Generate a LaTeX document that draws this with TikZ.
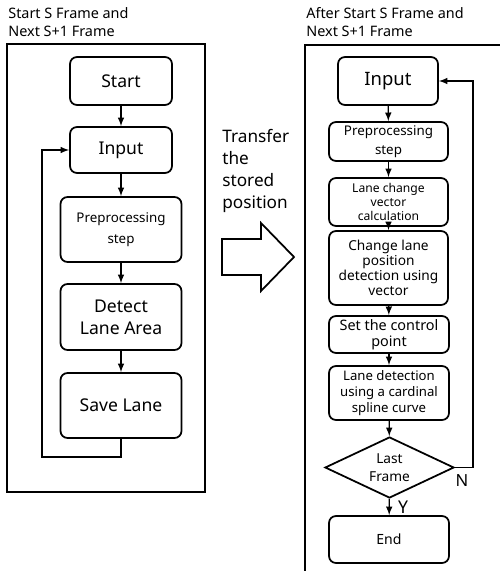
\documentclass[tikz,border=0pt]{standalone}
\usepackage{fontspec}
\setmainfont{Noto Sans}
\usetikzlibrary{arrows}
\usetikzlibrary{positioning}
\usetikzlibrary{shapes}
\newcommand{\pxu}{0.02cm}
\tikzset{
  stepbox/.style={draw, line width=1pt, rounded corners=4pt, align=center, inner sep=1pt},
  framebox/.style={line width=1.1pt},
  flow/.style={line width=0.7pt, -latex},
  titletxt/.style={anchor=north west, align=left, inner sep=0pt, font=\fontsize{8.2}{10.2}\selectfont},
  bigtxt/.style={font=\fontsize{10}{12.5}\selectfont},
}

\begin{document}
\begin{tikzpicture}[x=\pxu, y=-\pxu]
  \useasboundingbox (0,0) rectangle (500,571);

  %% first frames
  \node[titletxt] (ltitle) at (8,7) {Start S Frame and\\Next S+1 Frame};
  \draw[framebox] (7,44) rectangle (205,492);

  \node[stepbox, bigtxt, minimum width=102*\pxu, minimum height=48*\pxu] (start) at (121,81) {Start};
  \node[stepbox, bigtxt, minimum width=102*\pxu, minimum height=46*\pxu] (input) at (121,150) {Input};
  \node[stepbox, font=\fontsize{7.6}{12}\selectfont, minimum width=121*\pxu, minimum height=65*\pxu] (prep) at (121,229.5) {Preprocessing\\step};
  \node[stepbox, bigtxt, minimum width=121*\pxu, minimum height=66*\pxu] (detect) at (121,317) {Detect\\Lane Area};
  \node[stepbox, bigtxt, minimum width=121*\pxu, minimum height=65*\pxu] (save) at (121,405.5) {Save Lane};
  \coordinate (lback) at (42,457);

  \draw[flow] (start) -- (input);
  \draw[flow] (input) -- (prep);
  \draw[flow] (prep) -- (detect);
  \draw[flow] (detect) -- (save);
  \draw[flow] (save.south) |- (lback) |- (input.west);

  %% transfer
  \node[anchor=north west, align=left, inner sep=0pt, font=\fontsize{9.8}{12.5}\selectfont] (transfer) at (222,129) {Transfer\\the\\stored\\position};
  \draw[line width=1pt] (222,239) -- (261,239) -- (261,223) -- (294,257)
    -- (261,291) -- (261,275) -- (222,275) -- cycle;

  %% later frames
  \node[titletxt] (rtitle) at (306,7) {After Start S Frame and\\Next S+1 Frame};
  \draw[framebox] (500,45) -- (305,45) -- (305,571);

  \node[stepbox, font=\fontsize{10.5}{12.5}\selectfont, minimum width=100*\pxu, minimum height=48*\pxu] (rinput) at (388,81) {Input};
  \node[stepbox, font=\fontsize{7.6}{10.8}\selectfont, minimum width=119*\pxu, minimum height=39*\pxu] (rprep) at (388.5,141.5) {Preprocessing\\step};
  \node[stepbox, font=\fontsize{6.9}{8.2}\selectfont, minimum width=119*\pxu, minimum height=48*\pxu] (vec) at (388.5,202) {Lane change\\vector\\calculation};
  \node[stepbox, font=\fontsize{7.8}{8.5}\selectfont, minimum width=119*\pxu, minimum height=74*\pxu] (chg) at (388.5,268) {Change lane\\position\\detection using\\vector};
  \node[stepbox, font=\fontsize{8.2}{9}\selectfont, minimum width=120*\pxu, minimum height=37*\pxu] (ctrl) at (389,334.5) {Set the control\\point};
  \node[stepbox, font=\fontsize{7.5}{9}\selectfont, minimum width=120*\pxu, minimum height=54*\pxu] (spline) at (389,393) {Lane detection\\using a cardinal\\spline curve};
  \node[draw, line width=1pt, diamond, aspect=2, inner sep=0pt, align=center, font=\fontsize{7.8}{10}\selectfont, minimum width=129*\pxu, minimum height=61*\pxu] (last) at (389.5,467.5) {Last\\Frame};
  \node[stepbox, font=\fontsize{8}{10}\selectfont, minimum width=120*\pxu, minimum height=47*\pxu] (finish) at (389,539.5) {End};
  \coordinate (rback) at (473,467.5);

  \draw[flow] (rinput) -- (rprep);
  \draw[flow] (rprep) -- (vec);
  \draw[flow] (vec) -- (chg);
  \draw[flow] (chg) -- (ctrl);
  \draw[flow] (ctrl) -- (spline);
  \draw[flow] (spline) -- (last);
  \draw[flow] (last) -- (finish);
  \draw[flow] (last.east) -- (rback) |- (rinput.east);

  \node[font=\fontsize{9.5}{10}\selectfont, inner sep=0pt] (nlab) at (462,481) {N};
  \node[font=\fontsize{10}{10}\selectfont, inner sep=0pt] (ylab) at (403,507) {Y};
\end{tikzpicture}
\end{document}
